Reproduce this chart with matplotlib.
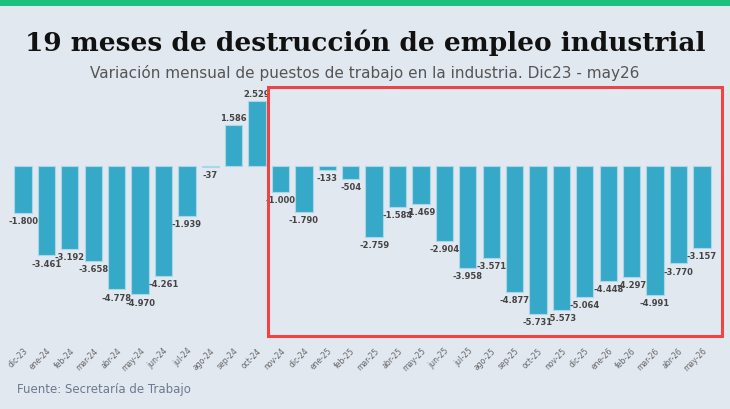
import matplotlib.pyplot as plt
from matplotlib.patches import Rectangle

months = ['dic-23', 'ene-24', 'feb-24', 'mar-24', 'abr-24', 'may-24', 'jun-24', 'jul-24',
          'ago-24', 'sep-24', 'oct-24', 'nov-24', 'dic-24', 'ene-25', 'feb-25', 'mar-25',
          'abr-25', 'may-25', 'jun-25', 'jul-25', 'ago-25', 'sep-25', 'oct-25', 'nov-25',
          'dic-25', 'ene-26', 'feb-26', 'mar-26', 'abr-26', 'may-26']
values = [-1800, -3461, -3192, -3658, -4778, -4970, -4261, -1939,
          -37, 1586, 2529, -1000, -1790, -133, -504, -2759,
          -1584, -1469, -2904, -3958, -3571, -4877, -5731, -5573,
          -5064, -4448, -4297, -4991, -3770, -3157]

bg = '#e2e8f0'
fig = plt.figure(figsize=(7.3, 4.1), dpi=100, facecolor=bg)
ax = fig.add_axes([0.0155, 0.195, 0.962, 0.585])
ax.set_facecolor(bg)

x = range(len(values))
ax.bar(x, values, width=0.74, color='#37a9c8', edgecolor='#a8d8e8', linewidth=0.8)

def fmt(v):
    return f"{v:,}".replace(',', '.')

for i, v in enumerate(values):
    if v >= 0:
        ax.text(i, v + 120, fmt(v), ha='center', va='bottom', fontsize=6,
                fontweight='bold', color='#444444')
    else:
        ax.text(i, v - 120, fmt(v), ha='center', va='top', fontsize=6,
                fontweight='bold', color='#444444')

ax.set_xlim(-0.5, len(values) - 0.5)
ax.set_ylim(-6311, 2981)
ax.set_xticks(list(x))
ax.set_xticklabels(months, rotation=45, ha='right', rotation_mode='anchor',
                   fontsize=5.5, color='#666666')
ax.tick_params(axis='x', length=0, pad=12)
ax.set_yticks([])
for s in ax.spines.values():
    s.set_visible(False)

# highlight box
fig.patches.append(Rectangle((268 / 730, 1 - 337 / 410), (722 - 268) / 730, (337 - 88) / 410,
                             transform=fig.transFigure, fill=False,
                             edgecolor='#ef4444', linewidth=2.2))
# top green stripe
fig.patches.append(Rectangle((0, 1 - 7 / 410), 1, 7 / 410, transform=fig.transFigure,
                             facecolor='#1fbf7e', edgecolor='none'))

fig.text(0.5, 0.895, '19 meses de destrucción de empleo industrial', ha='center', va='center',
         fontsize=19, fontweight='bold', family='DejaVu Serif', color='#111111')
fig.text(0.5, 0.822, 'Variación mensual de puestos de trabajo en la industria. Dic23 - may26',
         ha='center', va='center', fontsize=11, color='#555555')
fig.text(0.023, 0.05, 'Fuente: Secretaría de Trabajo', ha='left', va='center',
         fontsize=8.5, color='#6b7a90')

fig.savefig('out.png', dpi=100, facecolor=bg)
